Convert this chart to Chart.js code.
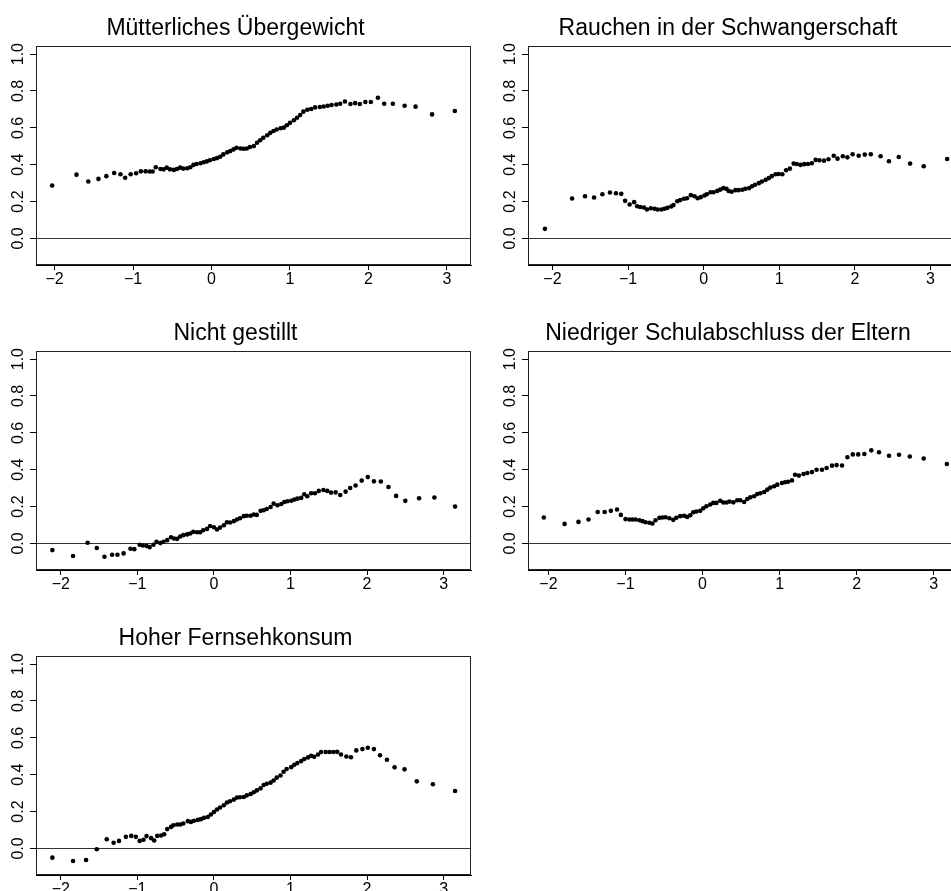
<!DOCTYPE html>
<html>
<head>
<meta charset="utf-8">
<script src="https://cdn.jsdelivr.net/npm/chart.js@4"></script>
<style>
  html, body { margin: 0; padding: 0; background: #fff; overflow: hidden; }
  body { width: 951px; height: 891px; position: relative; }
  canvas { position: absolute; }
</style>
</head>
<body>
<script>
// ticks
var xTickValues = [-2, -1, 0, 1, 2, 3];
var xTickLabels = ['\u22122', '\u22121', '0', '1', '2', '3'];
var yTickValues = [0, 0.2, 0.4, 0.6, 0.8, 1.0];
var yTickLabels = ['0.0', '0.2', '0.4', '0.6', '0.8', '1.0'];

var titles = ['M\u00fctterliches \u00dcbergewicht', 'Rauchen in der Schwangerschaft', 'Nicht gestillt',
  'Niedriger Schulabschluss der Eltern', 'Hoher Fernsehkonsum'];

// Mütterliches Übergewicht
var mutterX = [-2.03, -1.72, -1.57, -1.44, -1.34, -1.24, -1.16, -1.10, -1.03, -0.96, -0.90, -0.84, -0.79, -0.75, -0.71,
  -0.65, -0.61, -0.57, -0.53, -0.48, -0.44, -0.40, -0.36, -0.31, -0.27, -0.23, -0.19, -0.14, -0.10, -0.06, -0.02,
  0.03, 0.07, 0.11, 0.15, 0.20, 0.24, 0.28, 0.32, 0.37, 0.41, 0.45, 0.49, 0.54, 0.58, 0.62, 0.66, 0.71, 0.75, 0.79,
  0.83, 0.88, 0.92, 0.96, 1.00, 1.05, 1.09, 1.13, 1.17, 1.22, 1.27, 1.32, 1.38, 1.43, 1.48, 1.53, 1.59, 1.64, 1.70,
  1.77, 1.83, 1.89, 1.96, 2.03, 2.12, 2.20, 2.31, 2.46, 2.60, 2.81, 3.10];
var mutterY = [0.287, 0.346, 0.309, 0.323, 0.338, 0.355, 0.348, 0.329, 0.348, 0.354, 0.364, 0.364, 0.363, 0.363, 0.386,
  0.377, 0.375, 0.384, 0.375, 0.372, 0.377, 0.384, 0.379, 0.381, 0.386, 0.399, 0.404, 0.408, 0.413, 0.418, 0.424,
  0.431, 0.436, 0.443, 0.456, 0.467, 0.474, 0.483, 0.492, 0.488, 0.487, 0.488, 0.496, 0.501, 0.519, 0.533, 0.546, 0.560, 0.573, 0.583,
  0.591, 0.598, 0.601, 0.614, 0.627, 0.641, 0.655, 0.670, 0.688, 0.698, 0.702, 0.711, 0.713, 0.716, 0.720, 0.724, 0.727, 0.731, 0.743,
  0.729, 0.734, 0.729, 0.740, 0.740, 0.763, 0.731, 0.731, 0.720, 0.715, 0.673, 0.691];

// Rauchen in der Schwangerschaft
var rauchenX = [-2.10, -1.74, -1.57, -1.45, -1.34, -1.24, -1.16, -1.09, -1.04, -0.98, -0.92, -0.88, -0.84, -0.79, -0.75,
  -0.70, -0.65, -0.61, -0.56, -0.52, -0.48, -0.43, -0.40, -0.35, -0.31, -0.26, -0.22, -0.17, -0.12, -0.08, -0.04,
  0.01, 0.04, 0.09, 0.13, 0.18, 0.22, 0.26, 0.30, 0.33, 0.37, 0.42, 0.46, 0.51, 0.55, 0.60, 0.64, 0.68, 0.73, 0.77,
  0.82, 0.86, 0.90, 0.95, 0.99, 1.04, 1.09, 1.14, 1.19, 1.23, 1.28, 1.33, 1.38, 1.43, 1.48, 1.53, 1.59, 1.65, 1.72,
  1.77, 1.84, 1.90, 1.97, 2.05, 2.13, 2.21, 2.34, 2.45, 2.58, 2.73, 2.91, 3.22];
var rauchenY = [0.052, 0.217, 0.229, 0.222, 0.240, 0.249, 0.245, 0.242, 0.204, 0.184, 0.197, 0.175, 0.171, 0.168, 0.157,
  0.164, 0.161, 0.157, 0.157, 0.161, 0.166, 0.173, 0.181, 0.202, 0.208, 0.215, 0.218, 0.235, 0.229, 0.218, 0.224,
  0.233, 0.240, 0.251, 0.251, 0.258, 0.265, 0.273, 0.269, 0.258, 0.253, 0.262, 0.262, 0.264, 0.269, 0.273, 0.283, 0.291, 0.300, 0.309,
  0.318, 0.327, 0.338, 0.348, 0.350, 0.348, 0.370, 0.379, 0.406, 0.404, 0.399, 0.403, 0.404, 0.408, 0.426, 0.424, 0.422, 0.430, 0.449,
  0.433, 0.446, 0.440, 0.457, 0.449, 0.455, 0.457, 0.446, 0.419, 0.442, 0.406, 0.392, 0.431];

// Nicht gestillt
var gestilltX = [-2.11, -1.84, -1.65, -1.53, -1.43, -1.33, -1.26, -1.18, -1.09, -1.04, -0.97, -0.93, -0.88, -0.84, -0.79,
  -0.75, -0.70, -0.66, -0.61, -0.56, -0.52, -0.48, -0.44, -0.40, -0.35, -0.31, -0.27, -0.22, -0.18, -0.14, -0.09,
  -0.05, 0.00, 0.04, 0.08, 0.13, 0.17, 0.21, 0.26, 0.30, 0.34, 0.39, 0.43, 0.48, 0.52, 0.56, 0.61, 0.65, 0.69, 0.74,
  0.78, 0.83, 0.88, 0.92, 0.96, 1.01, 1.05, 1.09, 1.14, 1.18, 1.22, 1.27, 1.32, 1.37, 1.43, 1.48, 1.53, 1.59, 1.65,
  1.72, 1.78, 1.85, 1.93, 2.01, 2.09, 2.18, 2.28, 2.38, 2.50, 2.68, 2.88, 3.15];
var gestilltY = [-0.036, -0.068, 0.004, -0.025, -0.072, -0.061, -0.061, -0.054, -0.029, -0.031, -0.007, -0.011, -0.014, -0.020, -0.007,
  0.009, 0.002, 0.009, 0.018, 0.034, 0.027, 0.025, 0.038, 0.045, 0.049, 0.054, 0.063, 0.061, 0.061, 0.072, 0.079,
  0.095, 0.088, 0.076, 0.086, 0.099, 0.115, 0.114, 0.121, 0.130, 0.137, 0.148, 0.150, 0.150, 0.157, 0.155, 0.177, 0.180, 0.187, 0.198,
  0.216, 0.207, 0.214, 0.225, 0.229, 0.232, 0.238, 0.243, 0.247, 0.267, 0.256, 0.272, 0.272, 0.285, 0.290, 0.285, 0.276, 0.277, 0.263,
  0.281, 0.301, 0.314, 0.341, 0.360, 0.337, 0.336, 0.306, 0.258, 0.231, 0.245, 0.249, 0.200];

// Niedriger Schulabschluss der Eltern
var schuleX = [-2.06, -1.79, -1.61, -1.48, -1.36, -1.27, -1.19, -1.11, -1.06, -1.00, -0.95, -0.91, -0.87, -0.82, -0.78,
  -0.74, -0.69, -0.65, -0.61, -0.56, -0.52, -0.48, -0.43, -0.38, -0.34, -0.29, -0.24, -0.20, -0.16, -0.12, -0.08,
  -0.03, 0.01, 0.05, 0.10, 0.14, 0.18, 0.23, 0.27, 0.31, 0.35, 0.40, 0.45, 0.49, 0.54, 0.58, 0.62, 0.67, 0.71, 0.75,
  0.80, 0.84, 0.88, 0.93, 0.97, 1.03, 1.07, 1.11, 1.16, 1.20, 1.25, 1.31, 1.36, 1.42, 1.48, 1.55, 1.61, 1.68, 1.74,
  1.81, 1.88, 1.95, 2.02, 2.10, 2.19, 2.29, 2.42, 2.55, 2.69, 2.87, 3.17];
var schuleY = [0.141, 0.106, 0.117, 0.130, 0.171, 0.171, 0.177, 0.184, 0.155, 0.132, 0.130, 0.130, 0.130, 0.126, 0.121,
  0.115, 0.112, 0.108, 0.126, 0.139, 0.141, 0.142, 0.137, 0.128, 0.139, 0.148, 0.150, 0.144, 0.153, 0.169, 0.173,
  0.177, 0.191, 0.202, 0.211, 0.220, 0.220, 0.232, 0.222, 0.222, 0.227, 0.223, 0.234, 0.234, 0.225, 0.241, 0.250, 0.256, 0.268, 0.272,
  0.279, 0.292, 0.303, 0.310, 0.319, 0.328, 0.332, 0.335, 0.342, 0.373, 0.368, 0.377, 0.382, 0.387, 0.400, 0.400, 0.409, 0.422, 0.425,
  0.423, 0.468, 0.483, 0.483, 0.485, 0.505, 0.495, 0.476, 0.481, 0.472, 0.461, 0.431];

// Hoher Fernsehkonsum
var fernsehX = [-2.11, -1.84, -1.67, -1.53, -1.40, -1.31, -1.24, -1.15, -1.08, -1.02, -0.97, -0.92, -0.88, -0.82, -0.78,
  -0.74, -0.69, -0.65, -0.61, -0.56, -0.53, -0.48, -0.44, -0.40, -0.34, -0.30, -0.26, -0.21, -0.17, -0.13, -0.08,
  -0.04, 0.00, 0.04, 0.08, 0.13, 0.17, 0.21, 0.26, 0.30, 0.34, 0.39, 0.43, 0.48, 0.52, 0.56, 0.61, 0.65, 0.69, 0.74,
  0.78, 0.82, 0.87, 0.91, 0.95, 1.01, 1.05, 1.09, 1.14, 1.18, 1.23, 1.27, 1.31, 1.36, 1.40, 1.46, 1.51, 1.56, 1.61,
  1.66, 1.73, 1.79, 1.86, 1.94, 2.01, 2.09, 2.17, 2.26, 2.36, 2.49, 2.65, 2.86, 3.15];
var fernsehY = [-0.050, -0.068, -0.063, -0.004, 0.050, 0.031, 0.041, 0.063, 0.068, 0.063, 0.041, 0.047, 0.067, 0.056, 0.043,
  0.068, 0.070, 0.077, 0.105, 0.117, 0.126, 0.130, 0.130, 0.135, 0.148, 0.144, 0.150, 0.155, 0.159, 0.166, 0.171,
  0.184, 0.198, 0.211, 0.222, 0.234, 0.249, 0.256, 0.265, 0.276, 0.278, 0.279, 0.288, 0.295, 0.305, 0.315, 0.326, 0.344, 0.351, 0.357,
  0.369, 0.384, 0.396, 0.416, 0.431, 0.441, 0.454, 0.463, 0.474, 0.485, 0.494, 0.503, 0.497, 0.510, 0.523, 0.523, 0.523, 0.523, 0.524,
  0.510, 0.499, 0.495, 0.532, 0.539, 0.546, 0.539, 0.506, 0.481, 0.440, 0.429, 0.364, 0.348, 0.312];

var seriesX = [mutterX, rauchenX, gestilltX, schuleX, fernsehX];
var seriesY = [mutterY, rauchenY, gestilltY, schuleY, fernsehY];

// panel placement (canvas left/top/width) and x-axis extent
var panels = [
  { left: 0, top: 0, width: 475, xmin: -2.236, xmax: 3.306 },
  { left: 492, top: 0, width: 476, xmin: -2.324, xmax: 3.443 },
  { left: 0, top: 305, width: 475, xmin: -2.324, xmax: 3.358 },
  { left: 492, top: 305, width: 476, xmin: -2.265, xmax: 3.393 },
  { left: 0, top: 610, width: 475, xmin: -2.324, xmax: 3.358 }
];

var FONT = "'Liberation Sans', Arial, Helvetica, sans-serif";

var rFrame = {
  id: 'rFrame',
  beforeDatasetsDraw: function (chart) {
    var ctx = chart.ctx, a = chart.chartArea;
    var y0 = Math.round(chart.scales.y.getPixelForValue(0)) + 0.5;
    ctx.save();
    ctx.strokeStyle = '#333';
    ctx.lineWidth = 1;
    ctx.beginPath();
    ctx.moveTo(a.left, y0);
    ctx.lineTo(a.right, y0);
    ctx.stroke();
    ctx.restore();
  },
  afterDraw: function (chart) {
    var ctx = chart.ctx, a = chart.chartArea;
    ctx.save();
    ctx.strokeStyle = '#222';
    ctx.lineWidth = 1;
    ctx.strokeRect(a.left + 0.5, a.top + 0.5, a.right - a.left - 1, a.bottom - a.top - 1);
    ctx.fillStyle = '#000';
    ctx.font = '16px ' + FONT;
    ctx.textAlign = 'center';
    ctx.textBaseline = 'middle';
    for (var i = 0; i < yTickValues.length; i++) {
      var py = chart.scales.y.getPixelForValue(yTickValues[i]);
      ctx.save();
      ctx.translate(a.left - 17, py);
      ctx.rotate(-Math.PI / 2);
      ctx.fillText(yTickLabels[i], 0, 0);
      ctx.restore();
    }
    ctx.restore();
  }
};

for (var p = 0; p < panels.length; p++) {
  var pn = panels[p];
  var cv = document.createElement('canvas');
  cv.width = pn.width;
  cv.height = 305;
  cv.style.left = pn.left + 'px';
  cv.style.top = pn.top + 'px';
  cv.style.width = pn.width + 'px';
  cv.style.height = '305px';
  document.body.appendChild(cv);

  var pts = [];
  for (var i = 0; i < seriesX[p].length; i++) {
    pts.push({ x: seriesX[p][i], y: seriesY[p][i] });
  }

  new Chart(cv, {
    type: 'scatter',
    data: {
      datasets: [{
        data: pts,
        pointRadius: 2.3,
        pointBackgroundColor: '#000',
        pointBorderWidth: 0,
        pointHoverRadius: 2.3
      }]
    },
    options: {
      responsive: false,
      animation: false,
      devicePixelRatio: 1,
      layout: { padding: { top: 0, right: 4, bottom: 0, left: 0 } },
      events: [],
      scales: {
        x: {
          type: 'linear',
          min: pn.xmin,
          max: pn.xmax,
          afterBuildTicks: function (s) {
            s.ticks = xTickValues.map(function (v) { return { value: v }; });
          },
          afterFit: function (s) { s.height = 40; },
          grid: { drawOnChartArea: false, drawTicks: true, tickLength: 5, color: '#000' },
          border: { display: true, color: '#000' },
          ticks: {
            autoSkip: false,
            maxRotation: 0,
            minRotation: 0,
            padding: 0,
            color: '#000',
            font: { family: FONT, size: 16 },
            callback: function (v) {
              var k = xTickValues.indexOf(v);
              return k >= 0 ? xTickLabels[k] : '';
            }
          }
        },
        y: {
          type: 'linear',
          min: -0.144,
          max: 1.044,
          afterBuildTicks: function (s) {
            s.ticks = yTickValues.map(function (v) { return { value: v }; });
          },
          afterFit: function (s) { s.width = 36; },
          grid: { drawOnChartArea: false, drawTicks: true, tickLength: 6, color: '#000' },
          border: { display: true, color: '#000' },
          ticks: { display: false }
        }
      },
      plugins: {
        legend: { display: false },
        tooltip: { enabled: false },
        title: {
          display: true,
          text: titles[p],
          color: '#000',
          font: { family: FONT, size: 23, weight: 'normal', lineHeight: 1.2 },
          padding: { top: 15.2, bottom: 3.2 }
        }
      }
    },
    plugins: [rFrame]
  });
}
</script>
</body>
</html>
